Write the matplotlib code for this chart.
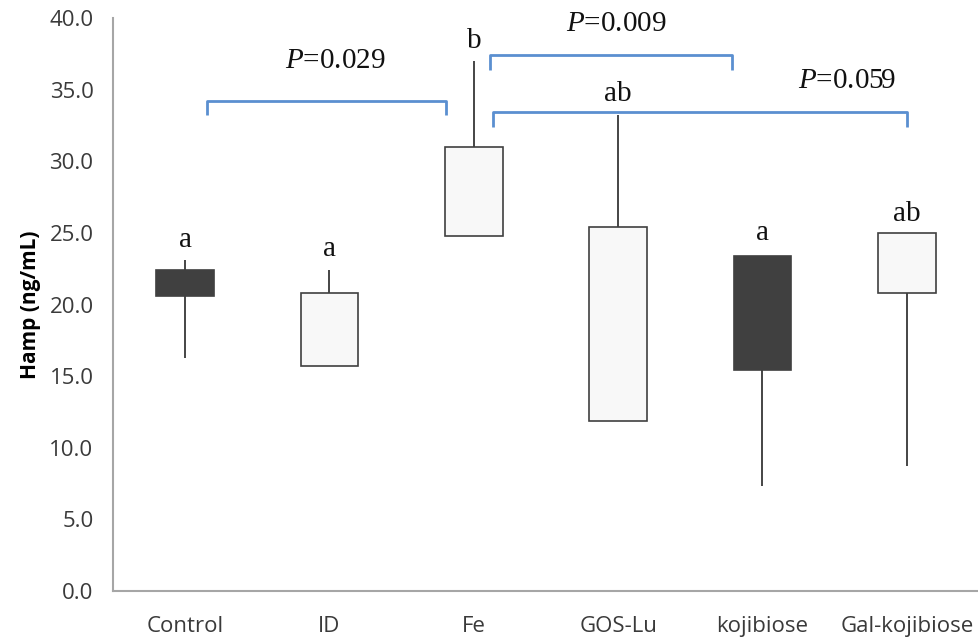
import matplotlib
matplotlib.use("Agg")
import matplotlib.pyplot as plt

# categories and stock-style values (high / low whisker, open / close box)
groups = ["Control", "ID", "Fe", "GOS-Lu", "kojibiose", "Gal-kojibiose"]
high = [23.1, 22.4, 37.0, 33.2, 23.4, 25.0]
low = [16.3, 15.7, 24.8, 11.9, 7.3, 8.7]
box_open = [22.4, 15.7, 24.8, 11.9, 23.4, 20.8]
box_close = [20.6, 20.8, 31.0, 25.4, 15.4, 25.0]
letters = ["a", "a", "b", "ab", "a", "ab"]
letter_y = [24.5, 23.9, 38.4, 34.7, 25.0, 26.3]

# significance brackets: x from, x to, bar level, tick end, label, label x, label y
br_x0 = [0.15, 2.11, 2.13]
br_x1 = [1.81, 3.79, 5.00]
br_y = [34.2, 37.4, 33.45]
br_tick = [33.2, 36.4, 32.4]
br_label = ["0.029", "0.009", "0.059"]
br_lx = [1.04, 2.99, 4.59]
br_ly = [37.0, 39.6, 35.6]

plt.rcParams["mathtext.fontset"] = "custom"
plt.rcParams["mathtext.it"] = "Liberation Serif:italic"
plt.rcParams["mathtext.rm"] = "Liberation Serif"

fig = plt.figure(figsize=(9.79, 6.39), dpi=100)
ax = fig.add_axes([0.1154, 0.0751, 0.8846, 0.8967])

x = range(len(groups))
ax.vlines(x, low, high, color="#262626", lw=1.2, zorder=1)
for i in x:
    lo = min(box_open[i], box_close[i])
    hi = max(box_open[i], box_close[i])
    face = "#404040" if box_close[i] < box_open[i] else "#f8f8f8"
    ax.bar(i, hi - lo, bottom=lo, width=0.4, color=face,
           edgecolor="#404040", lw=1.2, zorder=2)
    ax.text(i, letter_y[i], letters[i], ha="center", va="center",
            fontsize=21, family="Liberation Serif", color="#111111")

blue = "#5b8fd0"
for k in range(len(br_x0)):
    ax.plot([br_x0[k], br_x0[k], br_x1[k], br_x1[k]],
            [br_tick[k], br_y[k], br_y[k], br_tick[k]],
            color=blue, lw=2, solid_capstyle="butt", zorder=3)
    ax.text(br_lx[k], br_ly[k], r"$P$=" + br_label[k], ha="center", va="center",
            fontsize=21, family="Liberation Serif", color="#111111")

ax.set_xlim(-0.5, 5.5)
ax.set_ylim(0, 40)
ax.set_yticks([0, 5, 10, 15, 20, 25, 30, 35, 40])
ax.set_yticklabels(["%.1f" % v for v in ax.get_yticks()])
ax.set_xticks(list(x))
ax.set_xticklabels(groups)
ax.tick_params(length=0, labelsize=16, labelcolor="#3a3a3a")
for lab in ax.get_xticklabels() + ax.get_yticklabels():
    lab.set_family("Open Sans")
ax.tick_params(axis="x", pad=18)
ax.tick_params(axis="y", pad=14)

for side in ["top", "right"]:
    ax.spines[side].set_visible(False)
for side in ["left", "bottom"]:
    ax.spines[side].set_color("#a6a6a6")
    ax.spines[side].set_linewidth(1.5)

ax.set_ylabel("Hamp (ng/mL)", fontsize=15, fontweight="bold",
              family="Open Sans", color="black", labelpad=6)

fig.savefig("out.png", dpi=100)
